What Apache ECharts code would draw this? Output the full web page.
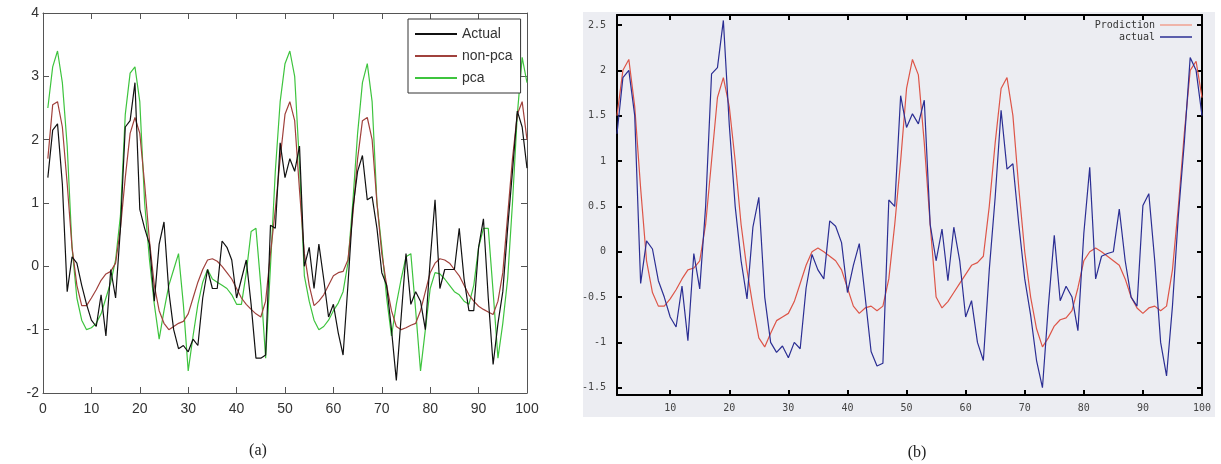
<!DOCTYPE html>
<html>
<head>
<meta charset="utf-8">
<script src="https://cdn.jsdelivr.net/npm/echarts@6/dist/echarts.min.js"></script>
<style>
  html, body { margin: 0; padding: 0; background: #fff; }
  #chart { width: 1221px; height: 464px; }
</style>
</head>
<body>
<div id="chart"></div>
<script>
// x positions (samples 1..100)
var xIndex = Array.from({ length: 100 }, function (_, i) { return i + 1; });

// panel (a)
var actualA = [1.4, 2.15, 2.25, 1.3, -0.4, 0.15, 0.05, -0.3, -0.6, -0.85,
  -0.95, -0.45, -1.1, -0.05, -0.5, 0.6, 2.2, 2.3, 2.9, 0.9,
  0.6, 0.35, -0.55, 0.35, 0.7, -0.4, -1.0, -1.3, -1.25, -1.35,
  -1.15, -1.25, -0.5, -0.05, -0.35, -0.35, 0.4, 0.3, 0.1, -0.5,
  -0.2, 0.1, -0.6, -1.45, -1.45, -1.4, 0.65, 0.6, 1.95, 1.4,
  1.7, 1.5, 1.9, 0.0, 0.3, -0.35, 0.35, -0.2, -0.8, -0.6,
  -1.05, -1.4, -0.3, 0.9, 1.5, 1.75, 1.05, 1.1, 0.6, -0.1,
  -0.3, -1.0, -1.8, -0.8, 0.2, -0.6, -0.4, -0.55, -1.0, 0.1,
  1.05, -0.35, -0.05, -0.05, -0.05, 0.6, -0.2, -0.7, -0.7, 0.3,
  0.75, -0.5, -1.55, -0.9, -0.4, 0.6, 1.5, 2.45, 2.2, 1.55];
var nonPcaA = [1.7, 2.55, 2.6, 2.2, 1.3, 0.3, -0.3, -0.62, -0.62, -0.5,
  -0.37, -0.22, -0.12, -0.08, 0.05, 0.6, 1.4, 2.1, 2.35, 2.1,
  1.3, 0.4, -0.3, -0.7, -0.9, -1.0, -0.95, -0.9, -0.87, -0.75,
  -0.5, -0.25, -0.05, 0.1, 0.12, 0.08, 0.0, -0.1, -0.2, -0.35,
  -0.5, -0.6, -0.68, -0.75, -0.8, -0.55, 0.2, 0.9, 1.7, 2.4,
  2.6, 2.3, 1.2, 0.2, -0.3, -0.62, -0.55, -0.45, -0.3, -0.15,
  -0.1, -0.08, 0.1, 0.8, 1.7, 2.3, 2.35, 2.0, 1.0, 0.2,
  -0.3, -0.7, -0.95, -1.0, -0.97, -0.93, -0.9, -0.7, -0.4, -0.1,
  0.05, 0.12, 0.1, 0.05, -0.05, -0.15, -0.3, -0.45, -0.55, -0.63,
  -0.68, -0.72, -0.76, -0.55, -0.1, 0.8, 1.7, 2.4, 2.6, 2.0];
var pcaA = [2.5, 3.15, 3.4, 2.9, 1.9, 0.3, -0.5, -0.85, -1.0, -0.97,
  -0.9, -0.75, -0.5, -0.25, 0.1, 0.8, 2.4, 3.05, 3.15, 2.6,
  1.0, 0.1, -0.6, -1.15, -0.7, -0.3, -0.05, 0.2, -0.6, -1.65,
  -1.1, -0.6, -0.25, -0.05, -0.2, -0.25, -0.3, -0.35, -0.45, -0.6,
  -0.6, -0.1, 0.55, 0.6, -0.3, -1.45, 0.0, 1.5, 2.6, 3.2,
  3.4, 3.0, 1.6, -0.15, -0.55, -0.85, -1.0, -0.95, -0.85, -0.7,
  -0.58, -0.4, 0.05, 1.0, 2.1, 2.9, 3.2, 2.6, 1.0, 0.3,
  -0.5, -1.1, -0.6, -0.2, 0.15, 0.2, -0.7, -1.65, -1.0, -0.35,
  -0.1, -0.12, -0.2, -0.3, -0.4, -0.45, -0.55, -0.6, -0.3, 0.3,
  0.6, 0.6, -0.4, -1.45, -0.9, -0.2, 1.0, 2.4, 3.3, 2.9];

// panel (b)
var predB = [1.5, 2.0, 2.12, 1.6, 0.7, -0.1, -0.45, -0.6, -0.6, -0.52,
  -0.42, -0.3, -0.2, -0.18, -0.1, 0.3, 1.0, 1.7, 1.92, 1.6,
  1.0, 0.3, -0.2, -0.6, -0.95, -1.05, -0.9, -0.76, -0.72, -0.68,
  -0.55, -0.35, -0.15, 0.0, 0.04, 0.0, -0.05, -0.1, -0.2, -0.4,
  -0.6, -0.68, -0.62, -0.6, -0.65, -0.6, -0.3, 0.3, 1.0, 1.8,
  2.12, 1.95, 1.2, 0.3, -0.5, -0.62, -0.55, -0.45, -0.35, -0.25,
  -0.15, -0.12, -0.05, 0.5, 1.2, 1.8, 1.92, 1.5, 0.7, 0.0,
  -0.5, -0.85, -1.05, -0.95, -0.82, -0.75, -0.73, -0.65, -0.4, -0.1,
  0.0, 0.04, 0.0, -0.05, -0.1, -0.15, -0.3, -0.5, -0.62, -0.68,
  -0.62, -0.6, -0.65, -0.6, -0.2, 0.5, 1.3, 2.0, 2.1, 1.7];
var actualB = [1.3, 1.92, 2.0, 1.5, -0.35, 0.12, 0.03, -0.32, -0.5, -0.72,
  -0.83, -0.38, -0.98, -0.02, -0.41, 0.5, 1.96, 2.03, 2.55, 1.4,
  0.5, -0.1, -0.52, 0.27, 0.6, -0.5, -1.0, -1.11, -1.04, -1.17,
  -1.0, -1.07, -0.4, -0.03, -0.2, -0.3, 0.34, 0.28, 0.1, -0.45,
  -0.15, 0.09, -0.5, -1.1, -1.26, -1.23, 0.57, 0.5, 1.72, 1.37,
  1.52, 1.41, 1.67, 0.3, -0.1, 0.25, -0.32, 0.27, -0.1, -0.72,
  -0.54, -1.0, -1.2, -0.2, 0.6, 1.56, 0.91, 0.97, 0.3, -0.3,
  -0.7, -1.2, -1.5, -0.6, 0.18, -0.54, -0.38, -0.5, -0.87, 0.2,
  0.93, -0.3, -0.05, -0.02, 0.0, 0.47, -0.1, -0.5, -0.6, 0.51,
  0.64, -0.1, -1.0, -1.37, -0.6, 0.4, 1.2, 2.14, 2.0, 1.5];

// tick labels
var xTicksB = [10, 20, 30, 40, 50, 60, 70, 80, 90, 100];
var yTicksB = [-1.5, -1, -0.5, 0, 0.5, 1, 1.5, 2, 2.5];

function pairs(ys) {
  return ys.map(function (y, i) { return [xIndex[i], y]; });
}

var chart = echarts.init(document.getElementById('chart'));

var frameA = '#555';
var frameB = '#000';
var fontA = { fontFamily: 'Liberation Sans', fontSize: 14, color: '#333' };
var fontB = { fontFamily: 'DejaVu Sans Mono', fontSize: 10, color: '#444' };

function axisA(dim, pos, showLabel, margin) {
  return {
    gridIndex: 0, type: 'value', position: pos,
    min: dim === 'x' ? 0 : -2, max: dim === 'x' ? 100 : 4,
    interval: dim === 'x' ? 10 : 1,
    axisLine: { show: true, onZero: false, lineStyle: { color: frameA, width: 1 } },
    axisTick: { show: true, inside: true, length: 6, lineStyle: { color: frameA } },
    axisLabel: Object.assign({ show: showLabel, margin: margin }, fontA),
    splitLine: { show: false }
  };
}

function axisB(dim, pos, showLabel, margin) {
  var vals = dim === 'x' ? xTicksB : yTicksB;
  return {
    gridIndex: 1, type: 'value', position: pos,
    min: dim === 'x' ? 1 : -1.58, max: dim === 'x' ? 100 : 2.61,
    axisLine: { show: true, onZero: false, lineStyle: { color: frameB, width: 2 } },
    axisTick: { show: true, inside: true, length: 5, customValues: vals, lineStyle: { color: frameB, width: 2 } },
    axisLabel: Object.assign({ show: showLabel, margin: margin, customValues: vals }, fontB),
    splitLine: { show: false }
  };
}

var lineBase = { type: 'line', symbol: 'none', showSymbol: false, animation: false };

chart.setOption({
  animation: false,
  backgroundColor: '#fff',
  graphic: [
    { type: 'rect', z: -10, shape: { x: 583, y: 12, width: 632, height: 405 }, style: { fill: '#ECEDF2' } },
    { type: 'text', x: 258, y: 451, style: { text: '(a)', font: '16px "Liberation Serif"', fill: '#222', textAlign: 'center', textVerticalAlign: 'middle' } },
    { type: 'text', x: 917, y: 453, style: { text: '(b)', font: '16px "Liberation Serif"', fill: '#222', textAlign: 'center', textVerticalAlign: 'middle' } }
  ],
  grid: [
    { left: 43, top: 13, width: 484, height: 380 },
    { left: 617, top: 15, width: 585, height: 380 }
  ],
  legend: [
    {
      data: ['Actual', 'non-pca', 'pca'],
      orient: 'vertical', left: 408, top: 19, icon: 'rect',
      padding: [8, 8, 8, 7], itemGap: 8, itemWidth: 42, itemHeight: 2,
      borderColor: '#333', borderWidth: 1, backgroundColor: '#fff',
      textStyle: Object.assign({ lineHeight: 14 }, fontA)
    },
    {
      data: ['Prodiction', 'actual'],
      orient: 'vertical', right: 29, top: 20, align: 'right', icon: 'rect',
      padding: 0, itemGap: 2, itemWidth: 32, itemHeight: 1.5,
      textStyle: { fontFamily: 'DejaVu Sans Mono', fontSize: 10, lineHeight: 10, color: '#333' }
    }
  ],
  xAxis: [
    axisA('x', 'bottom', true, 9),
    axisA('x', 'top', false, 0),
    axisB('x', 'bottom', true, 8),
    axisB('x', 'top', false, 0)
  ],
  yAxis: [
    axisA('y', 'left', true, 4),
    axisA('y', 'right', false, 0),
    axisB('y', 'left', true, 11),
    axisB('y', 'right', false, 0)
  ],
  series: [
    Object.assign({}, lineBase, { name: 'Actual', xAxisIndex: 0, yAxisIndex: 0, data: pairs(actualA), z: 4,
      lineStyle: { color: '#111', width: 1.2 }, itemStyle: { color: '#111' } }),
    Object.assign({}, lineBase, { name: 'non-pca', xAxisIndex: 0, yAxisIndex: 0, data: pairs(nonPcaA), z: 3,
      lineStyle: { color: '#A0413C', width: 1.2 }, itemStyle: { color: '#A0413C' } }),
    Object.assign({}, lineBase, { name: 'pca', xAxisIndex: 0, yAxisIndex: 0, data: pairs(pcaA), z: 2,
      lineStyle: { color: '#3EC43E', width: 1.2 }, itemStyle: { color: '#3EC43E' } }),
    Object.assign({}, lineBase, { name: 'Prodiction', xAxisIndex: 2, yAxisIndex: 2, data: pairs(predB), z: 2,
      lineStyle: { color: '#DD5548', width: 1.2 }, itemStyle: { color: '#F0A090' } }),
    Object.assign({}, lineBase, { name: 'actual', xAxisIndex: 2, yAxisIndex: 2, data: pairs(actualB), z: 3,
      lineStyle: { color: '#2B2E93', width: 1.2 }, itemStyle: { color: '#2B2E93' } })
  ]
});
</script>
</body>
</html>
